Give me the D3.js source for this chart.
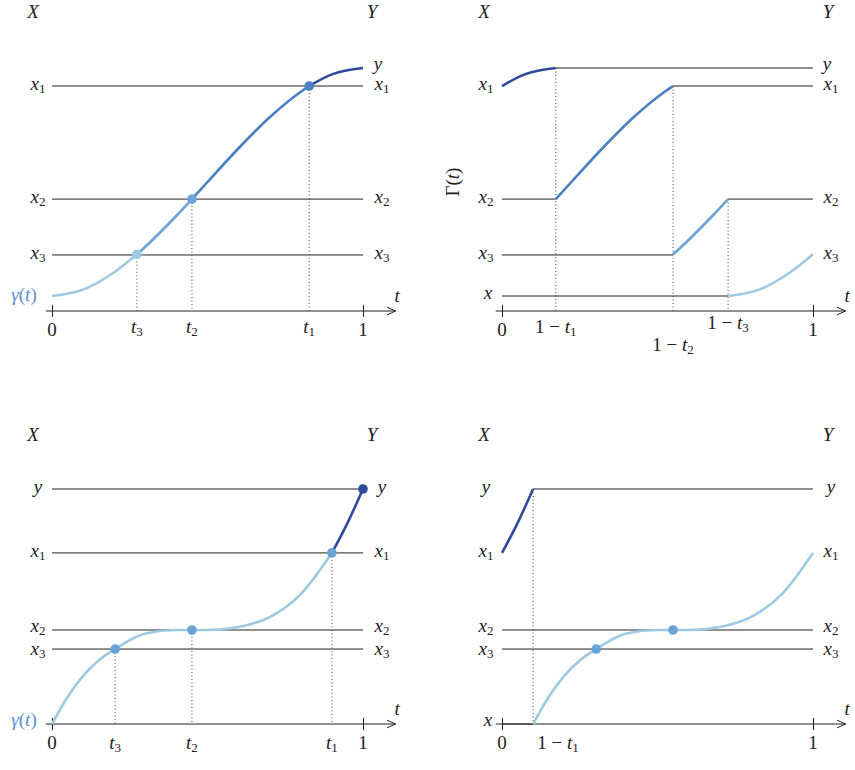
<!DOCTYPE html><html><head><meta charset="utf-8">
<script src="https://cdn.jsdelivr.net/npm/d3@7"></script>
<style>body{margin:0;background:#fff}svg text{font-family:"Liberation Serif","DejaVu Serif",serif;font-size:19px;fill:#222}</style>
</head><body><svg id="c" width="855" height="770"></svg><script>
// palette
const C = ["#9ecae1","#6aa3d5","#4a7fc1","#2f4b99"];
// top curve gamma(t)
const topT = [0,.1,.2,.273,.3,.4,.45,.5,.6,.7,.8,.827,.9,1];
const topV = [0,.028,.104,.183,.216,.352,.425,.5,.648,.784,.896,.921,.972,1];
const topTs = {t3:.273,t2:.45,t1:.827};
const topLevels = {x:0,x3:.18,x2:.425,x1:.921,y:1};
// bottom curve
const botT = [0,.05,.1,.15,.203,.3,.4,.45,.5,.6,.7,.8,.9,.95,1];
const botV = [0,.115,.205,.27,.319,.385,.4,.4,.4,.413,.455,.553,.728,.855,1];
const botTs = {t3:.203,t2:.45,t1:.9};
const botLevels = {x:0,x3:.319,x2:.4,x1:.728,y:1};

const svg = d3.select("#c");
svg.append("defs").append("marker").attr("id","arr").attr("viewBox","0 0 10 10").attr("refX",9).attr("refY",5)
 .attr("markerWidth",10).attr("markerHeight",10).attr("markerUnits","userSpaceOnUse").attr("orient","auto")
 .append("path").attr("d","M0,1 L9,5 L0,9").attr("fill","none").attr("stroke","#222").attr("stroke-width",1);

function lab(g,x,y,base,sub,opt={}){
  const t=g.append("text").attr("x",x).attr("y",y).attr("text-anchor",opt.anchor||"middle").attr("dominant-baseline","middle");
  if(opt.pre) t.append("tspan").text(opt.pre);
  t.append("tspan").attr("font-style","italic").text(base);
  if(sub) t.append("tspan").attr("font-size","13px").attr("dy",4).text(sub);
  if(opt.post){t.append("tspan").attr("dy",sub?-4:0).text("(");t.append("tspan").attr("font-style","italic").text("t");t.append("tspan").text(")");}
  if(opt.fill) t.selectAll("tspan").style("fill",opt.fill);
  return t;
}
function seg(T,V,a,b){const r=[];T.forEach((t,i)=>{if(t>=a-1e-9&&t<=b+1e-9)r.push([t,V[i]]);});return r;}

function panel(x0,axisY,top,bottomY){
  const x=d3.scaleLinear().domain([0,1]).range([x0,x0+311]);
  const y=d3.scaleLinear().domain([0,1]).range([bottomY,top]);
  const g=svg.append("g");
  g.append("line").attr("x1",x(-0.02)).attr("x2",x(1.105)).attr("y1",axisY).attr("y2",axisY)
   .attr("stroke","#222").attr("marker-end","url(#arr)");
  const ax=d3.axisBottom(x).tickValues([0,1]).tickSize(6).tickFormat("");
  const ag=g.append("g").attr("transform",`translate(0,${axisY})`).call(ax);
  ag.select(".domain").remove();
  ag.selectAll(".tick line").attr("y1",-6).attr("stroke","#222");
  lab(g,x(1.1)+3,axisY-13,"t");
  g.append("text").attr("x",x(0)).attr("y",axisY+21).attr("text-anchor","middle").attr("dominant-baseline","middle").text("0");
  g.append("text").attr("x",x(1)).attr("y",axisY+21).attr("text-anchor","middle").attr("dominant-baseline","middle").text("1");
  return {g,x,y};
}
const line=(p)=>d3.line().x(d=>p.x(d[0])).y(d=>p.y(d[1])).curve(d3.curveMonotoneX);
function hl(p,v,a,b){p.g.append("line").attr("x1",p.x(a)).attr("x2",p.x(b)).attr("y1",p.y(v)).attr("y2",p.y(v)).attr("stroke","#222").attr("stroke-width",1);}
function dot(p,t,v,y2){p.g.append("line").attr("x1",p.x(t)).attr("x2",p.x(t)).attr("y1",p.y(v)).attr("y2",y2).attr("stroke","#444").attr("stroke-dasharray","1,2.5");}
function curve(p,pts,shift,col){p.g.append("path").datum(pts.map(d=>[d[0]+shift,d[1]])).attr("d",line(p)).attr("fill","none").attr("stroke",col).attr("stroke-width",2.6);}
function pt(p,t,v,col){p.g.append("circle").attr("cx",p.x(t)).attr("cy",p.y(v)).attr("r",4.8).attr("fill",col);}

// ---- Panel 1
{const p=panel(52,311,68,296),L=topLevels,T=topTs;
 ["x1","x2","x3"].forEach(k=>{hl(p,L[k],0,1);lab(p.g,38,p.y(L[k]),"x",k.slice(1));lab(p.g,382,p.y(L[k]),"x",k.slice(1));});
 lab(p.g,378,66,"y");
 const b=[0,T.t3,T.t2,T.t1,1];
 [T.t3,T.t2,T.t1].forEach(t=>{const i=topT.indexOf(t);dot(p,t,topV[i],311);});
 for(let i=0;i<4;i++)curve(p,seg(topT,topV,b[i],b[i+1]),0,C[i]);
 [T.t3,T.t2,T.t1].forEach((t,i)=>pt(p,t,topV[topT.indexOf(t)],C[i]));
 lab(p.g,p.x(T.t3),329,"t","3");lab(p.g,p.x(T.t2),329,"t","2");lab(p.g,p.x(T.t1),329,"t","1");
 lab(p.g,24,297,"γ",null,{post:true,fill:"#5b8fd0"});
 lab(p.g,33,14,"X");lab(p.g,372,14,"Y");}
// ---- Panel 2
{const p=panel(502,311,68,296),L=topLevels,T=topTs;
 const a1=1-T.t1,a2=1-T.t2,a3=1-T.t3;
 hl(p,L.y,a1,1);hl(p,L.x1,a2,1);hl(p,L.x2,0,a1);hl(p,L.x2,a3,1);hl(p,L.x3,0,a2);hl(p,L.x,0,a3);
 dot(p,a1,L.y,311);dot(p,a2,L.x1,311);dot(p,a3,L.x2,311);
 curve(p,seg(topT,topV,T.t1,1),-T.t1,C[3]);
 curve(p,seg(topT,topV,T.t2,T.t1),a1-T.t2,C[2]);
 curve(p,seg(topT,topV,T.t3,T.t2),a2-T.t3,C[1]);
 curve(p,seg(topT,topV,0,T.t3),a3,C[0]);
 ["x1","x2","x3"].forEach(k=>{lab(p.g,486,p.y(L[k]),"x",k.slice(1));lab(p.g,831,p.y(L[k]),"x",k.slice(1));});
 lab(p.g,488,295,"x");lab(p.g,827,66,"y");
 lab(p.g,p.x(a1),329,"t","1",{pre:"1 − "});lab(p.g,p.x(a2),347,"t","2",{pre:"1 − "});lab(p.g,p.x(a3),325,"t","3",{pre:"1 − "});
 p.g.append("text").attr("transform","translate(455,182) rotate(-90)").attr("text-anchor","middle").attr("dominant-baseline","middle")
  .call(t=>{t.append("tspan").text("Γ(");t.append("tspan").attr("font-style","italic").text("t");t.append("tspan").text(")");});
 lab(p.g,484,14,"X");lab(p.g,828,14,"Y");}
// ---- Panel 3
{const p=panel(52,724,489,724),L=botLevels,T=botTs;
 ["y","x1","x2","x3"].forEach(k=>{hl(p,L[k],0,1);const s=k==="y"?null:k.slice(1),b=k==="y"?"y":"x";
   const d=k==="x2"?-2:k==="x3"?2:0;
   lab(p.g,38,p.y(L[k])+d,b,s);lab(p.g,382,p.y(L[k])+d,b,s);});
 [T.t3,T.t2,T.t1].forEach(t=>dot(p,t,botV[botT.indexOf(t)],724));
 curve(p,seg(botT,botV,0,T.t1),0,C[0]);curve(p,seg(botT,botV,T.t1,1),0,C[3]);
 [T.t3,T.t2,T.t1].forEach(t=>pt(p,t,botV[botT.indexOf(t)],C[1]));pt(p,1,1,C[3]);
 lab(p.g,p.x(T.t3),745,"t","3");lab(p.g,p.x(T.t2),745,"t","2");lab(p.g,p.x(T.t1),745,"t","1");
 lab(p.g,24,722,"γ",null,{post:true,fill:"#5b8fd0"});
 lab(p.g,33,437,"X");lab(p.g,372,437,"Y");}
// ---- Panel 4
{const p=panel(502,724,489,724),L=botLevels,T=botTs,a1=1-T.t1;
 hl(p,L.y,a1,1);hl(p,L.x2,0,1);hl(p,L.x3,0,1);hl(p,L.x,0,a1);
 dot(p,a1,L.y,724);
 curve(p,seg(botT,botV,T.t1,1),-T.t1,C[3]);curve(p,seg(botT,botV,0,T.t1),a1,C[0]);
 pt(p,T.t3+a1,botV[botT.indexOf(T.t3)],C[1]);pt(p,T.t2+a1,botV[botT.indexOf(T.t2)],C[1]);
 ["y","x1","x2","x3"].forEach(k=>{const s=k==="y"?null:k.slice(1),b=k==="y"?"y":"x";
   const d=k==="x2"?-2:k==="x3"?2:0;
   lab(p.g,486,p.y(L[k])+d,b,s);lab(p.g,831,p.y(L[k])+d,b,s);});
 lab(p.g,488,722,"x");
 lab(p.g,558,745,"t","1",{pre:"1 − "});
 lab(p.g,484,437,"X");lab(p.g,828,437,"Y");}
</script></body></html>
